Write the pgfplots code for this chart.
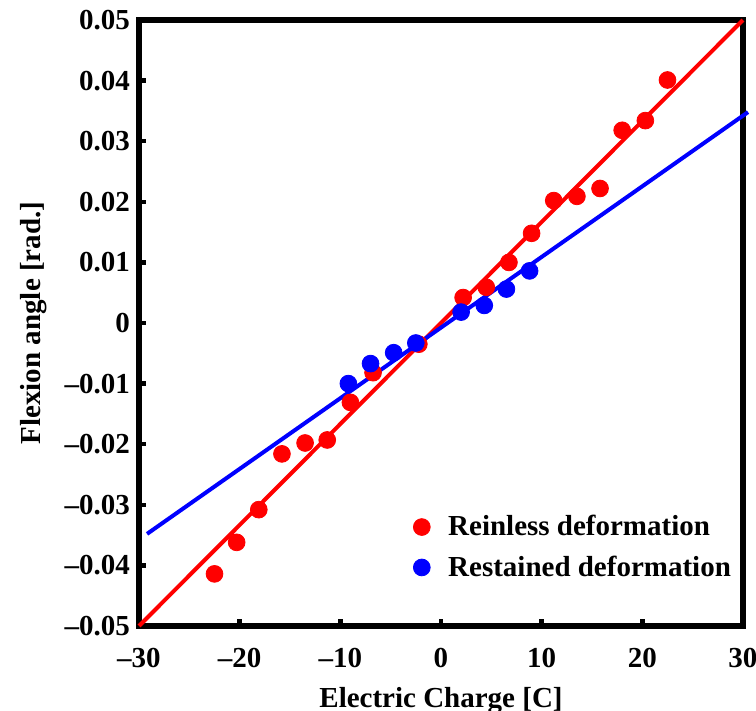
\documentclass[border=0pt]{standalone}
\usepackage{fontspec}
\setmainfont{Liberation Serif}
\usepackage{pgfplots}
\pgfplotsset{compat=1.18}

\definecolor{pred}{RGB}{255,0,0}
\definecolor{pblue}{RGB}{0,0,255}

\newcommand{\chartfont}{\fontsize{14.5}{17}\selectfont\bfseries}

\begin{document}
\begin{tikzpicture}
\begin{axis}[
  scale only axis,
  width=302pt, height=303pt,
  xmin=-30, xmax=30, ymin=-0.05, ymax=0.05,
  scaled y ticks=false,
  xtick={-30,-20,-10,0,10,20,30},
  xticklabels={--30,--20,--10,0,10,20,30},
  ytick={-0.05,-0.04,-0.03,-0.02,-0.01,0,0.01,0.02,0.03,0.04,0.05},
  yticklabels={--0.05,--0.04,--0.03,--0.02,--0.01,0,0.01,0.02,0.03,0.04,0.05},
  xtick pos=bottom, ytick pos=left,
  tick align=inside,
  major tick length=3.5pt,
  every tick/.style={black, line width=2.2pt},
  axis line style={line width=2.8pt},
  ticklabel style={font=\chartfont},
  xticklabel style={yshift=-7.5pt},
  yticklabel style={xshift=-1pt},
  xlabel={Electric Charge [C]},
  ylabel={Flexion angle [rad.]},
  label style={font=\chartfont},
  xlabel style={yshift=-3pt},
  ylabel style={yshift=2pt},
  clip=false,
  legend style={at={(rel axis cs:0.453,0.07)}, anchor=south west,
    draw=none, fill=none, font=\chartfont,
    row sep=4.5pt, inner sep=0pt},
  legend cell align=left,
  legend image code/.code={%
    \path (-4.2pt,0pt) (11pt,0pt);
    \draw[#1, only marks] plot coordinates {(0pt,0pt)};},
]
% fitted lines
\addplot[pred, line width=2pt, forget plot] coordinates {(-30,-0.05) (30,0.05)};
\addplot[pblue, line width=2pt, forget plot] coordinates {(-29.2,-0.0348) (30.5,0.0348)};

% reinless deformation
\addplot[only marks, mark=*, mark size=4.2pt, color=pred, mark options={fill=pred, draw=pred}]
coordinates {
(-22.5,-0.0414) (-20.3,-0.0362) (-18.1,-0.0308) (-15.8,-0.0216)
(-13.5,-0.0198) (-11.3,-0.0193) (-9.0,-0.0131) (-6.75,-0.0082)
(-2.2,-0.0035) (2.2,0.0042) (4.5,0.0059) (6.75,0.0100)
(9.0,0.0148) (11.2,0.0202) (13.5,0.0209) (15.8,0.0222)
(18.0,0.0318) (20.3,0.0334) (22.5,0.0401)
};
\addlegendentry{Reinless deformation}

% restained deformation
\addplot[only marks, mark=*, mark size=4.2pt, color=pblue, mark options={fill=pblue, draw=pblue}]
coordinates {
(-9.2,-0.0100) (-7.0,-0.0067) (-4.7,-0.0049) (-2.5,-0.0033)
(2.0,0.0018) (4.3,0.0029) (6.5,0.0056) (8.8,0.0086)
};
\addlegendentry{Restained deformation}
\end{axis}
\pgfresetboundingbox
\path[use as bounding box] (-69.5pt,-42.5pt) rectangle (308.5pt,313pt);
\end{tikzpicture}
\end{document}
